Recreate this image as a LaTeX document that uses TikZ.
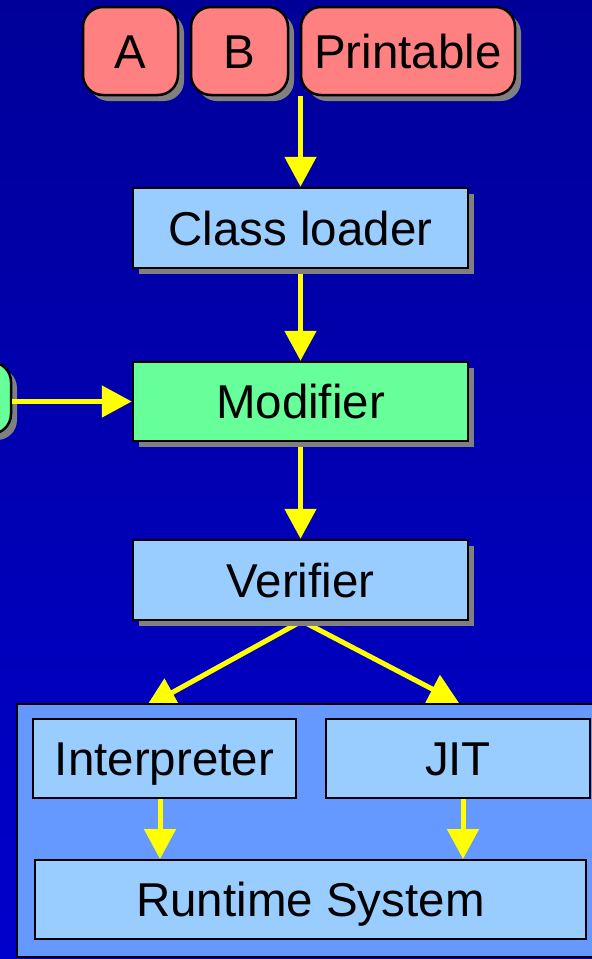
\documentclass[tikz,border=0pt]{standalone}
\usepackage{fontspec}
\setmainfont{Liberation Sans}
\usetikzlibrary{arrows.meta,shadows}
\definecolor{bgtop}{RGB}{0,0,153}
\definecolor{bgbot}{RGB}{0,0,204}
\definecolor{pinkbox}{RGB}{255,128,128}
\definecolor{bluebox}{RGB}{153,204,255}
\definecolor{greenbox}{RGB}{102,255,153}
\definecolor{outerbox}{RGB}{102,153,255}
\definecolor{arrowyellow}{RGB}{255,255,0}
\definecolor{shadowgray}{RGB}{128,128,128}
\pgfdeclarelayer{back}
\pgfdeclarelayer{mid}
\pgfsetlayers{back,mid,main}
\begin{document}
\begin{tikzpicture}[x=1pt,y=-1pt,
  box/.style={draw=black, line width=2.5pt, inner sep=0pt, text=black,
    font=\fontsize{47.5}{56}\selectfont, text height=34pt, text depth=0pt},
  shadowed/.style={drop shadow={shadow xshift=6pt, shadow yshift=-6pt, fill=shadowgray, opacity=1}},
  pinkrbox/.style={box, shadowed, fill=pinkbox, rounded corners=20pt, minimum height=88pt},
  stagebox/.style={box, shadowed, fill=bluebox, minimum width=335pt, minimum height=80pt},
  innerbox/.style={box, line width=2pt, fill=bluebox},
  flow/.style={draw=arrowyellow, line width=5pt, -{Triangle[length=30pt,width=31pt]}}
]
\useasboundingbox (0,0) rectangle (592,959);
\clip (0,0) rectangle (592,959);
\begin{pgfonlayer}{back}
\shade[top color=bgtop, bottom color=bgbot] (0,0) rectangle (592,959);
\end{pgfonlayer}

% top row
\node[pinkrbox, minimum width=95pt] (A) at (130.5,51) {A};
\node[pinkrbox, minimum width=97pt] (B) at (239.5,51) {B};
\node[pinkrbox, minimum width=214pt] (P) at (408,51) {Printable};

% stages
\node[stagebox] (CL) at (300.5,228) {Class loader};
\node[stagebox, fill=greenbox, minimum height=79pt] (Mod) at (300.5,401.5) {Modifier};
\node[stagebox] (Ver) at (300.5,580) {Verifier};

% partially visible box at left
\node[box, shadowed, fill=greenbox, rounded corners=20pt, minimum width=102pt, minimum height=72pt] (L) at (-40,398) {};

% connectors under the boxes
\coordinate (tipL) at (146,707);
\coordinate (tipR) at (459,703);
\begin{pgfonlayer}{mid}
\draw[flow] (CL.north |- P.south) -- (CL.north);
\draw[flow] (CL.south) -- (Mod.north);
\draw[flow] (Mod.south) -- (Ver.north);
\draw[flow] ([xshift=1pt]Ver.south) -- (tipL);
\draw[flow] ([xshift=2pt]Ver.south) -- (tipR);
\end{pgfonlayer}
\draw[flow] (L.east |- Mod.west) -- (Mod.west);

% execution engine group
\draw[draw=black, line width=2.5pt, fill=outerbox] (17,704) rectangle (600,957);
\node[innerbox, minimum width=263pt, minimum height=79pt] (Int) at (164.5,758.5) {Interpreter};
\node[innerbox, minimum width=264pt, minimum height=79pt] (JIT) at (458,758.5) {JIT};
\node[innerbox, minimum width=551pt, minimum height=79pt] (RT) at (310.5,899.5) {Runtime System};
\begin{pgfonlayer}{mid}
\end{pgfonlayer}
\draw[flow] ([xshift=-4.5pt]Int.south) -- ([xshift=-4.5pt]Int.south |- RT.north);
\draw[flow] ([xshift=5pt]JIT.south) -- ([xshift=5pt]JIT.south |- RT.north);
\end{tikzpicture}
\end{document}
